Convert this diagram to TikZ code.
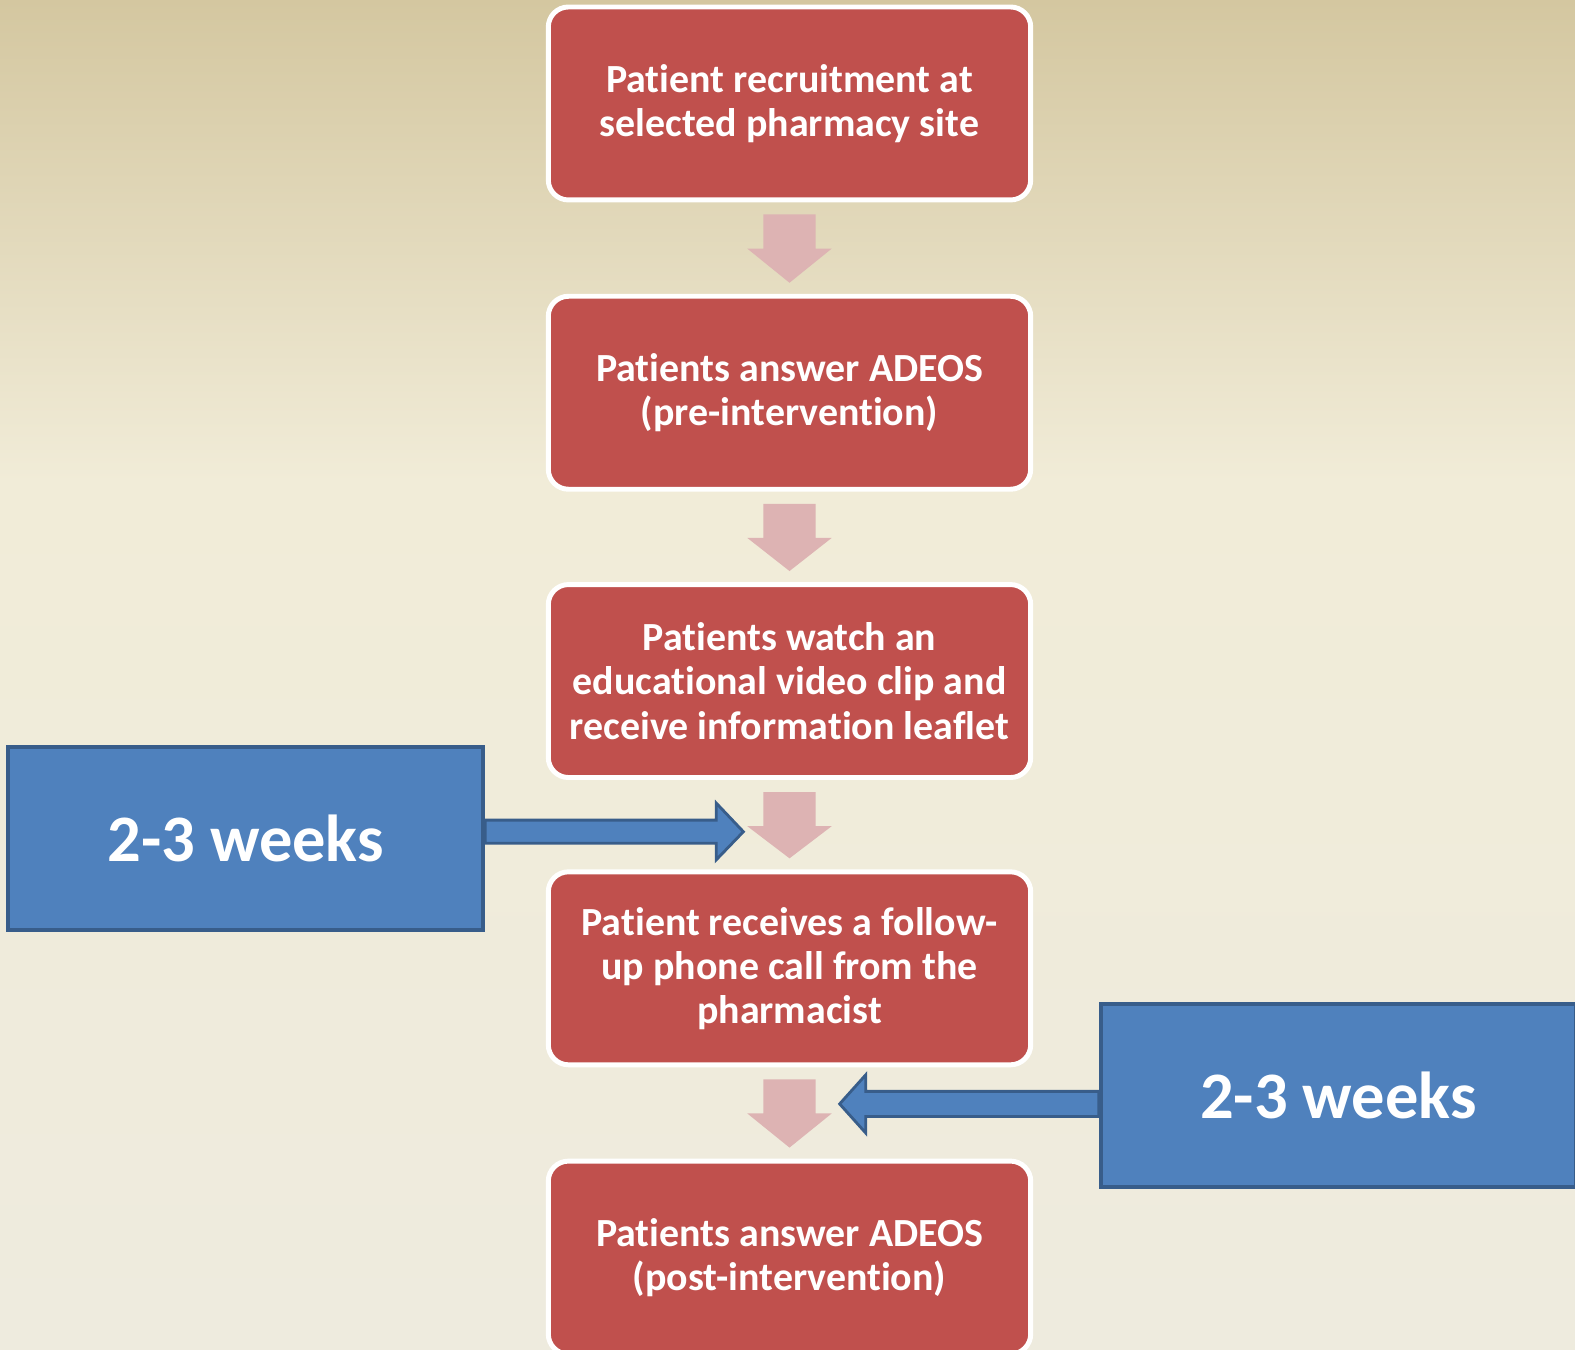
\documentclass[tikz,border=0pt]{standalone}
\usepackage{fontspec}
\setmainfont[Ligatures=NoCommon]{Carlito}
\usepackage{tikz}
\usetikzlibrary{calc, positioning}

\definecolor{boxred}{HTML}{C0504D}
\definecolor{weeksblue}{HTML}{4F81BD}
\definecolor{weeksline}{HTML}{385D8A}
\definecolor{arrowpink}{HTML}{DDB3B3}
\definecolor{bgtop}{RGB}{212,199,160}
\definecolor{bgmid}{RGB}{241,236,216}
\definecolor{bgbottom}{RGB}{238,235,222}

\tikzset{
  stagebox/.style={rectangle, rounded corners=0.2cm, fill=boxred, draw=white, line width=1.4pt,
    minimum width=4.8cm, minimum height=1.92cm, text=white, align=center,
    font=\bfseries\fontsize{11.3}{12.5}\selectfont},
  weeksbox/.style={rectangle, fill=weeksblue, draw=weeksline, line width=1.1pt,
    minimum width=4.73cm, minimum height=1.82cm, text=white,
    font=\bfseries\fontsize{18.8}{22}\selectfont},
  downarrow/.style={fill=arrowpink},
  sidearrow/.style={fill=weeksblue, draw=weeksline, line width=0.8pt, line join=miter},
}

\begin{document}
\begin{tikzpicture}[x=0.01cm, y=-0.01cm]
    \useasboundingbox (0,0) rectangle (1568,1344);
    % background
    \shade[top color=bgtop, bottom color=bgmid] (0,0) rectangle (1568,480);
    \shade[top color=bgmid, bottom color=bgbottom] (0,479) rectangle (1568,1344);

    % stages
    \node[stagebox] (b1) at (786,103) {Patient recruitment at\\selected pharmacy site};
    \node[stagebox] (b2) at (786,391) {Patients answer ADEOS\\(pre-intervention)};
    \node[stagebox] (b3) at (786,678) {Patients watch an\\educational video clip and\\receive information leaflet};
    \node[stagebox] (b4) at (786,964) {Patient receives a follow-\\up phone call from the\\pharmacist};
    \node[stagebox] (b5) at (786,1252) {Patients answer ADEOS\\(post-intervention)};

    % pink arrows
    \fill[downarrow] ($(b1.south)+(-26,12)$) -- ++(52,0) -- ++(0,34) -- ++(16,0) -- ($(b2.north)+(0,-11)$) -- ($(b1.south)+(-42,46)$) -- ++(16,0) -- cycle;
    \fill[downarrow] ($(b2.south)+(-26,12)$) -- ++(52,0) -- ++(0,34) -- ++(16,0) -- ($(b3.north)+(0,-11)$) -- ($(b2.south)+(-42,46)$) -- ++(16,0) -- cycle;
    \fill[downarrow] ($(b3.south)+(-26,12)$) -- ++(52,0) -- ++(0,34) -- ++(16,0) -- ($(b4.north)+(0,-11)$) -- ($(b3.south)+(-42,46)$) -- ++(16,0) -- cycle;
    \fill[downarrow] ($(b4.south)+(-26,12)$) -- ++(52,0) -- ++(0,34) -- ++(16,0) -- ($(b5.north)+(0,-11)$) -- ($(b4.south)+(-42,46)$) -- ++(16,0) -- cycle;

    % time spans
    \node[weeksbox] (wl) at (244.5,835) {2-3 weeks};
    \node[weeksbox] (wr) at (1332.5,1091) {2-3 weeks};

    \draw[sidearrow] ($(wl.east)+(0,-18.5)$) -- ++(230,0) -- ++(0,-17) -- ($(wl.east)+(257,-7)$)
        -- ($(wl.east)+(230,21)$) -- ++(0,-16.5) -- ($(wl.east)+(0,4.5)$) -- cycle;
    \draw[sidearrow] ($(wr.west)+(0,-4.5)$) -- ++(-232,0) -- ++(0,-16.5) -- ($(wr.west)+(-258,8)$)
        -- ($(wr.west)+(-232,37)$) -- ++(0,-16.5) -- ($(wr.west)+(0,20.5)$) -- cycle;
\end{tikzpicture}
\end{document}
